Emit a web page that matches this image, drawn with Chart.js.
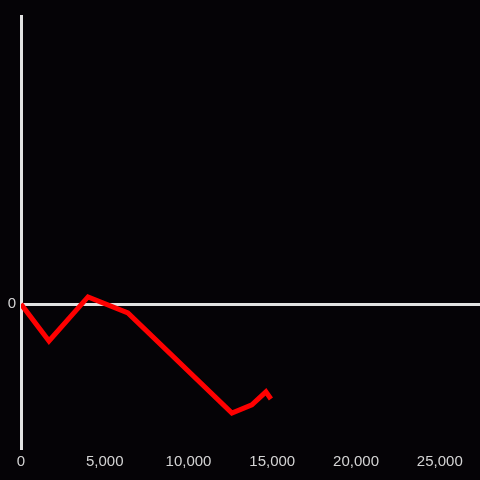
<!DOCTYPE html>
<html>
<head>
<meta charset="utf-8">
<script src="https://cdn.jsdelivr.net/npm/chart.js@4/dist/chart.umd.min.js"></script>
<style>
    html, body { margin: 0; padding: 0; background: #050306; }
    #wrap { width: 480px; height: 480px; position: relative; }
</style>
</head>
<body>
<div id="wrap"><canvas id="lineChart"></canvas></div>
<script>
// 數據 (從圖上讀出來的估計值)
const xValues = [0, 1670, 4000, 6380, 12590, 13780, 14620, 14920];
const yValues = [0, -0.257, 0.049, -0.0625, -0.757, -0.70, -0.61, -0.66];
const xTickValues = [0, 5000, 10000, 15000, 20000, 25000];
const yTickValues = [0];

const axisColor = '#e2e2e2';
const labelColor = '#d4d4d4';

const points = xValues.map((x, i) => ({ x: x, y: yValues[i] }));

const ctx = document.getElementById('lineChart').getContext('2d');
new Chart(ctx, {
    type: 'line',
    data: {
        datasets: [{
            data: points,
            borderColor: '#ff0000',
            borderWidth: 5,
            pointRadius: 0,
            tension: 0,
            fill: false,
        }]
    },
    options: {
        responsive: true,
        maintainAspectRatio: false,
        animation: false,
        layout: { padding: { top: 16, right: 0, left: 0, bottom: 0 } },
        plugins: {
            legend: { display: false },
            tooltip: { enabled: false }
        },
        scales: {
            x: {
                type: 'linear',
                min: 0,
                max: 27400,
                afterBuildTicks: (scale) => { scale.ticks = xTickValues.map(v => ({ value: v })); },
                afterFit: (scale) => { scale.height = 32; },
                grid: { display: false },
                border: { display: false },
                ticks: {
                    color: labelColor,
                    font: { family: 'Liberation Sans', size: 15 },
                    padding: -3,
                    maxRotation: 0,
                    callback: (v) => v.toLocaleString('en-US')
                }
            },
            y: {
                min: -1,
                max: 2,
                afterBuildTicks: (scale) => { scale.ticks = yTickValues.map(v => ({ value: v })); },
                afterFit: (scale) => { scale.width = 21; },
                grid: {
                    color: axisColor,
                    lineWidth: 3,
                    drawTicks: false
                },
                border: { display: true, color: axisColor, width: 3 },
                ticks: {
                    color: labelColor,
                    font: { family: 'Liberation Sans', size: 15 },
                    padding: 5
                }
            }
        }
    }
});
</script>
</body>
</html>
